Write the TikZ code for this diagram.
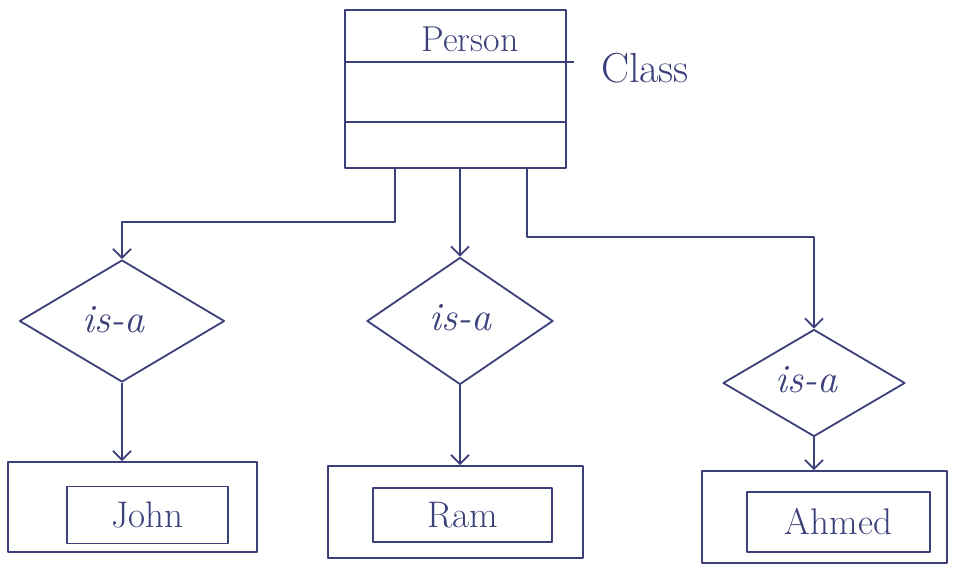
\documentclass[tikz,border=0pt]{standalone}
\usepackage{fontspec}
\usetikzlibrary{shapes.geometric,arrows.meta}
\definecolor{ink}{HTML}{3B3F7A}
\begin{document}
\begin{tikzpicture}[x=1pt,y=-1pt,
  every node/.style={text=ink},
  ink line/.style={draw=ink,line width=1.8pt,line join=round},
  isabox/.style={ink line,shape=diamond,inner sep=0pt},
  isatext/.style={font=\fontsize{40}{42}\selectfont\itshape\addfontfeatures{LetterSpace=6}},
  outerbox/.style={ink line,rectangle,inner sep=0pt},
  innerbox/.style={ink line,rectangle,inner sep=0pt,font=\fontsize{37}{40}\selectfont\addfontfeatures{LetterSpace=10}},
  link/.style={ink line,-{Straight Barb[length=9pt,width=18pt,line width=1.8pt]}}
]
\useasboundingbox (0,0) rectangle (954,568);
% class box
\node[outerbox,minimum width=221pt,minimum height=158pt] (person) at (455.5,89) {};
\node[font=\fontsize{36}{40}\selectfont\addfontfeatures{LetterSpace=8}] (pname) at (470,39) {Person};
\coordinate (d1l) at (345,62);
\coordinate (d1r) at (574,62);
\coordinate (d2l) at (345,122);
\coordinate (d2r) at (566,122);
\draw[ink line] (d1l) -- (d1r);
\draw[ink line] (d2l) -- (d2r);
\node[font=\fontsize{42}{46}\selectfont\addfontfeatures{LetterSpace=6}] (classlbl) at (645,68) {Class};
% diamonds
\node[isabox,minimum width=205pt,minimum height=122pt] (isa1) at (122,321) {};
\node[isabox,minimum width=186pt,minimum height=127pt] (isa2) at (460,321) {};
\node[isabox,minimum width=182pt,minimum height=107pt] (isa3) at (814,383) {};
\node[isatext] (t1) at (113,320) {is-a};
\node[isatext] (t2) at (460,318) {is-a};
\node[isatext] (t3) at (806,380) {is-a};
% outer and inner boxes
\node[outerbox,minimum width=249pt,minimum height=90pt] (johnout) at (132.5,507) {};
\node[innerbox,minimum width=161pt,minimum height=57pt] (john) at (147.5,515) {John};
\node[outerbox,minimum width=255pt,minimum height=92pt] (ramout) at (455.5,512) {};
\node[innerbox,minimum width=179pt,minimum height=54pt] (ram) at (462.5,515) {Ram};
\node[outerbox,minimum width=245pt,minimum height=92pt] (ahmedout) at (824.5,517) {};
\node[innerbox,minimum width=183pt,minimum height=60pt] (ahmed) at (838.5,522) {Ahmed};
% connectors from class
\coordinate (b1) at (395,222);
\coordinate (b2) at (122,222);
\coordinate (b3) at (527,237);
\coordinate (b4) at (814,237);
\draw[link] (person.south -| b1) -- (b1) -- (b2) -- (isa1.north);
\draw[link] (person.south -| isa2.north) -- (isa2.north);
\draw[link] (person.south -| b3) -- (b3) -- (b4) -- (isa3.north);
% connectors to instances
\draw[link] (isa1.south) -- (isa1.south |- johnout.north);
\draw[link] (isa2.south) -- (isa2.south |- ramout.north);
\draw[link] (isa3.south) -- (isa3.south |- ahmedout.north);
\end{tikzpicture}
\end{document}
